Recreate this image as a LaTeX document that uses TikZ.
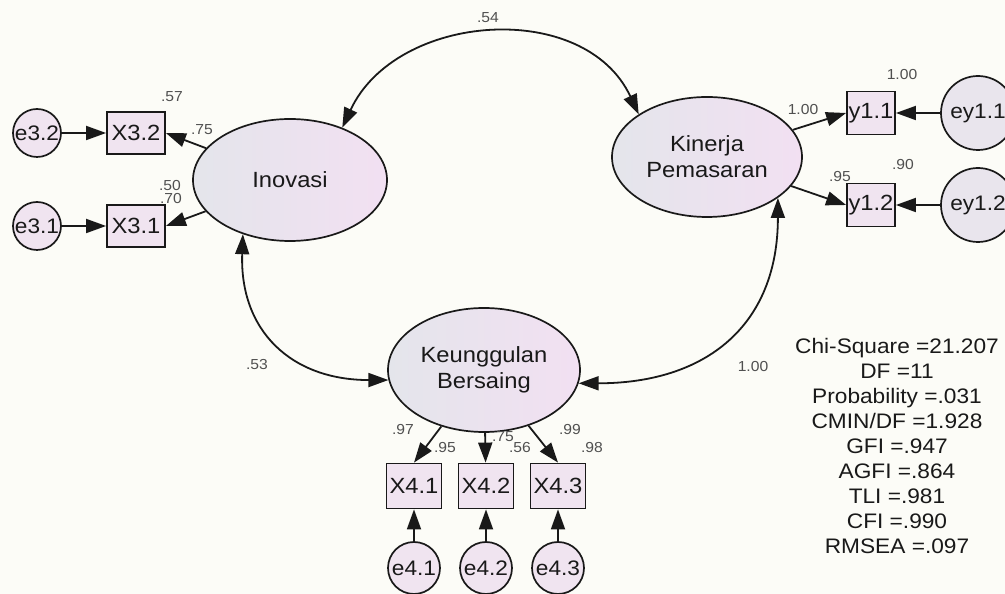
\documentclass[tikz,border=0pt]{standalone}
\usepackage{fontspec}
\setmainfont{Liberation Sans}[FakeStretch=1.08]
\usetikzlibrary{arrows.meta,shapes.geometric}
\definecolor{bg}{RGB}{252,252,247}
\definecolor{pinkf}{RGB}{242,224,242}
\definecolor{grayf}{RGB}{228,229,235}
\definecolor{boxf}{RGB}{240,228,240}
\definecolor{lbl}{RGB}{80,80,80}
\definecolor{ink}{RGB}{25,25,25}
\begin{document}
\begin{tikzpicture}[x=1pt,y=1pt,
  latent/.style={ellipse, draw=ink, line width=1.7pt, left color=grayf, right color=pinkf, inner sep=0pt, font=\fontsize{22}{26}\selectfont, align=center, text=ink},
  obs/.style={rectangle, draw=ink, line width=1.8pt, fill=boxf, inner sep=0pt, font=\fontsize{22}{26}\selectfont, text=ink},
  err/.style={circle, draw=ink, line width=1.7pt, fill=boxf, inner sep=0pt},
  etxt/.style={font=\fontsize{21}{24}\selectfont, text=ink},
  regr/.style={draw=ink, line width=1.8pt, -{Triangle[length=20pt,width=14pt]}},
  covar/.style={draw=ink, line width=1.8pt, {Triangle[length=20pt,width=14pt]}-{Triangle[length=20pt,width=14pt]}},
  lab/.style={font=\fontsize{14.5}{15}\selectfont, text=lbl, inner sep=0pt}
]
\fill[bg] (0,0) rectangle (1005,594);
\useasboundingbox (0,0) rectangle (1005,594);

% latent variables
\node[latent, minimum width=194pt, minimum height=122pt] (ino) at (290,414) {Inovasi};
\node[latent, minimum width=190pt, minimum height=120pt] (kin) at (707,437) {Kinerja\\Pemasaran};
\node[latent, minimum width=192pt, minimum height=124pt] (keu) at (484,224) {Keunggulan\\Bersaing};

% observed variables
\node[obs, minimum width=58pt, minimum height=42pt] (x32) at (136,461) {X3.2};
\node[obs, minimum width=58pt, minimum height=42pt] (x31) at (136,368) {X3.1};
\node[obs, minimum width=48pt, minimum height=43pt] (y11) at (871,481) {y1.1};
\node[obs, minimum width=48pt, minimum height=43pt] (y12) at (871,389) {y1.2};
\node[obs, minimum width=55pt, minimum height=45pt] (x41) at (414,108) {X4.1};
\node[obs, minimum width=55pt, minimum height=45pt] (x42) at (486,108) {X4.2};
\node[obs, minimum width=55pt, minimum height=45pt] (x43) at (558,108) {X4.3};

% error terms
\node[err, minimum size=48pt, label={[etxt]center:e3.2}] (e32) at (37,461) {};
\node[err, minimum size=48pt, label={[etxt]center:e3.1}] (e31) at (37,368) {};
\node[err, minimum size=74pt, fill=grayf!60!boxf, label={[etxt]center:ey1.1}] (ey11) at (978,481) {};
\node[err, minimum size=74pt, fill=grayf!60!boxf, label={[etxt]center:ey1.2}] (ey12) at (978,389) {};
\node[err, minimum size=52pt, label={[etxt]center:e4.1}] (e41) at (414,26) {};
\node[err, minimum size=52pt, label={[etxt]center:e4.2}] (e42) at (486,26) {};
\node[err, minimum size=52pt, label={[etxt]center:e4.3}] (e43) at (558,26) {};

% regression paths
\draw[regr] (e32) -- (x32);
\draw[regr] (e31) -- (x31);
\draw[regr] (ino) -- (x32.east);
\draw[regr] (ino) -- (x31.east);
\draw[regr] (kin) -- (y11.west);
\draw[regr] (kin) -- (y12.west);
\draw[regr] (ey11) -- (y11);
\draw[regr] (ey12) -- (y12);
\draw[regr] (keu) -- (x41.north);
\draw[regr] (keu) -- (x42);
\draw[regr] (keu) -- (x43.north);
\draw[regr] (e41) -- (x41);
\draw[regr] (e42) -- (x42);
\draw[regr] (e43) -- (x43);

% covariances
\draw[covar] (ino.45) to[out=65,in=115,looseness=1.1] (kin.148);
\draw[covar] (ino.229) to[out=268,in=180,looseness=1.2] (keu.186);
\draw[covar] (kin.330) to[out=270,in=0,looseness=1.2] (keu.352);

% labels
\node[lab] (l1) at (172,497) {.57};
\node[lab] (l2) at (202,464) {.75};
\node[lab] (l3) at (170,408) {.50};
\node[lab] (l4) at (171,395) {.70};
\node[lab] (l5) at (902,519) {1.00};
\node[lab] (l6) at (803,484) {1.00};
\node[lab] (l7) at (840,417) {.95};
\node[lab] (l8) at (903,429) {.90};
\node[lab] (l9) at (488,576) {.54};
\node[lab] (l10) at (257,229) {.53};
\node[lab] (l11) at (753,227) {1.00};
\node[lab] (l12) at (403,164) {.97};
\node[lab] (l13) at (445,146) {.95};
\node[lab] (l14) at (503,157) {.75};
\node[lab] (l15) at (520,146) {.56};
\node[lab] (l16) at (570,164) {.99};
\node[lab] (l17) at (592,146) {.98};

% fit statistics
\node[align=center, font=\fontsize{21}{25}\selectfont, text=ink, inner sep=0pt] (fit) at (897,148)
  {Chi-Square =21.207\\DF =11\\Probability =.031\\CMIN/DF =1.928\\GFI =.947\\AGFI =.864\\TLI =.981\\CFI =.990\\RMSEA =.097};
\end{tikzpicture}
\end{document}
